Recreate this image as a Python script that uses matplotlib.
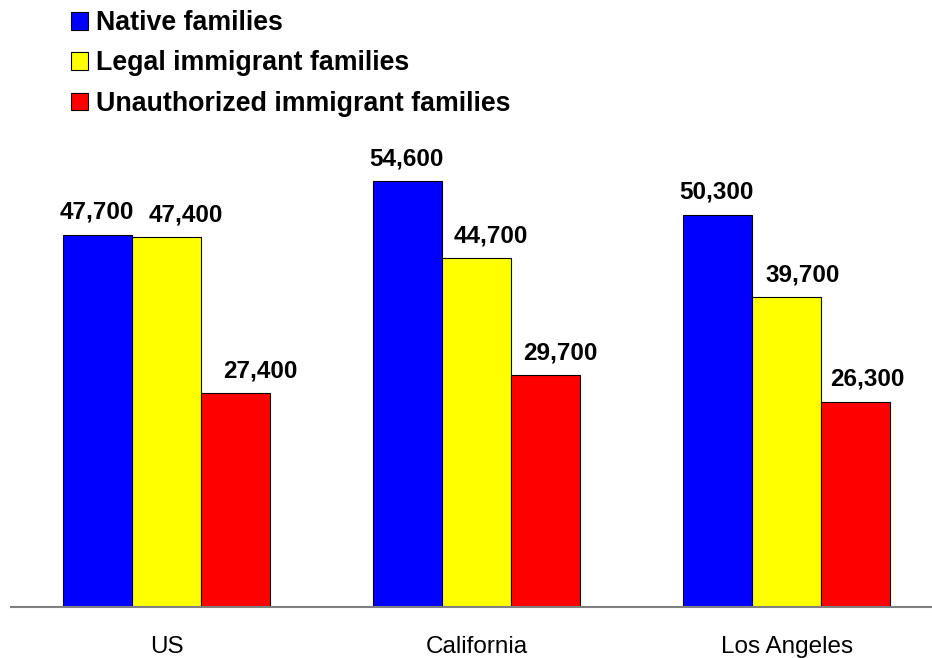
import numpy as np
import matplotlib.pyplot as plt

plt.rcParams['font.family'] = ['Liberation Sans', 'DejaVu Sans']

# Median family income by place and family type
places = ['US', 'California', 'Los Angeles']
series = ['Native families', 'Legal immigrant families', 'Unauthorized immigrant families']
native = [47700, 54600, 50300]
legal = [47400, 44700, 39700]
unauthorized = [27400, 29700, 26300]
colors = ['#0000FF', '#FFFF00', '#FF0000']

# horizontal nudge (px) of each value label so neighbours don't collide
label_dx = [[-1, -1, -1],
            [19, 14, 16],
            [25, 15, 12]]

W, H = 932, 658
fig = plt.figure(figsize=(W / 100, H / 100), dpi=100)
# axes box in pixels: left 11, right 932, baseline at 607
ax = fig.add_axes([11 / W, (H - 607) / H, (W - 11) / W, 447 / H])
ax.set_ylim(0, 447 / 0.0078)

x = np.arange(len(places))
width = 69 / 310
for i, (name, vals, c) in enumerate(zip(series, [native, legal, unauthorized], colors)):
    pos = x + (i - 1) * width
    ax.bar(pos, vals, width, color=c, edgecolor='black', linewidth=0.8, label=name)
    for j, (xp, v) in enumerate(zip(pos, vals)):
        ax.annotate(f'{v:,}', (xp, v), xytext=(label_dx[i][j] * 0.72, 11.5),
                    textcoords='offset points', ha='center', va='baseline',
                    fontsize=17.5, fontweight='bold')

ax.set_xlim(-0.5016, 2.469)
ax.set_xticks(x)
ax.set_xticklabels(places, fontsize=17.5)
ax.tick_params(axis='x', length=0, pad=21)
ax.set_yticks([])
for s in ['top', 'right', 'left']:
    ax.spines[s].set_visible(False)
ax.spines['bottom'].set_color('#808080')
ax.spines['bottom'].set_linewidth(1.5)

fig.legend(loc='upper left', bbox_to_anchor=(71 / W, 1 - 10 / H), frameon=False,
           prop={'size': 19.3, 'weight': 'bold'}, handlelength=0.65, handleheight=0.65,
           handletextpad=0.3, labelspacing=0.54, borderaxespad=0, borderpad=0)

fig.savefig('out.png', dpi=100)
